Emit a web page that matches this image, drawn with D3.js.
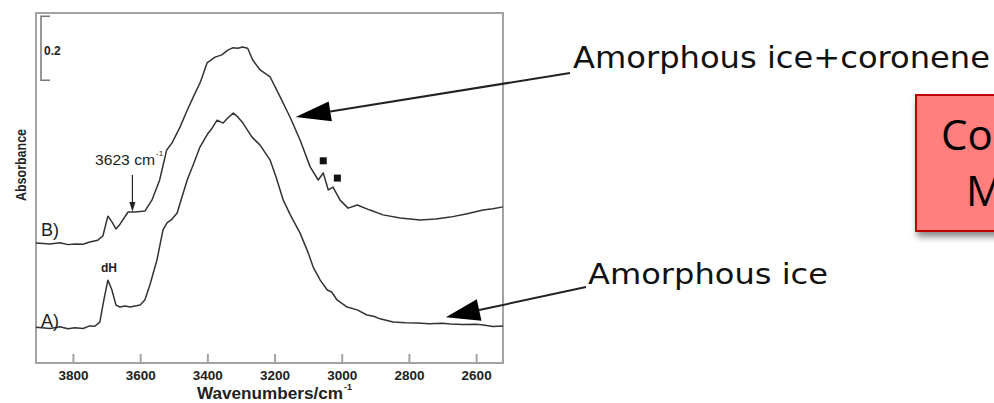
<!DOCTYPE html>
<html>
<head>
<meta charset="utf-8">
<script src="https://cdn.jsdelivr.net/npm/d3@7"></script>
<style>
  body { margin: 0; background: #fff; }
  svg { display: block; }
  .spec { fill: none; stroke: #333; stroke-width: 1.5; stroke-linejoin: round; }
  .frame { fill: none; stroke: #a3a3a3; stroke-width: 2; }
  .tickLabel { font-family: "Liberation Sans", Arial, sans-serif; font-weight: bold; font-size: 13px; fill: #222; }
  .note { font-family: "DejaVu Sans", Verdana, sans-serif; fill: #111; }
</style>
</head>
<body>
<div id="chart"></div>
<script>
// spectrum A: amorphous ice (wavenumber, absorbance)
var wnA = [3910, 3868, 3839, 3815, 3794, 3770, 3750, 3735, 3720, 3708, 3696, 3684, 3672, 3660, 3645, 3630, 3600, 3586, 3571, 3550, 3532, 3520, 3505, 3490, 3460, 3440, 3422, 3400, 3386, 3371, 3353, 3340, 3323, 3310, 3294, 3267, 3243, 3213, 3195, 3174, 3153, 3124, 3100, 3085, 3064, 3043, 3030, 3014, 2984, 2954, 2925, 2905, 2886, 2847, 2810, 2776, 2740, 2700, 2677, 2640, 2600, 2579, 2550, 2520];
var absA = [0.112, 0.108, 0.113, 0.107, 0.110, 0.108, 0.116, 0.115, 0.128, 0.197, 0.259, 0.228, 0.181, 0.175, 0.178, 0.175, 0.181, 0.197, 0.244, 0.322, 0.416, 0.438, 0.450, 0.469, 0.572, 0.625, 0.675, 0.715, 0.734, 0.759, 0.750, 0.765, 0.781, 0.770, 0.750, 0.706, 0.681, 0.634, 0.580, 0.509, 0.463, 0.406, 0.345, 0.300, 0.259, 0.228, 0.222, 0.197, 0.175, 0.166, 0.150, 0.146, 0.138, 0.128, 0.126, 0.125, 0.123, 0.124, 0.122, 0.120, 0.121, 0.119, 0.114, 0.116];
// spectrum B: amorphous ice + coronene
var wnB = [3910, 3868, 3839, 3815, 3794, 3770, 3750, 3726, 3711, 3696, 3684, 3672, 3660, 3636, 3615, 3586, 3565, 3542, 3521, 3505, 3481, 3460, 3442, 3420, 3401, 3377, 3357, 3339, 3325, 3309, 3295, 3280, 3265, 3243, 3213, 3183, 3154, 3124, 3094, 3070, 3055, 3040, 3026, 3005, 2981, 2954, 2916, 2877, 2826, 2767, 2720, 2677, 2630, 2579, 2550, 2520];
var absB = [0.375, 0.372, 0.376, 0.370, 0.372, 0.371, 0.378, 0.384, 0.397, 0.459, 0.441, 0.419, 0.434, 0.472, 0.472, 0.475, 0.509, 0.572, 0.666, 0.688, 0.738, 0.790, 0.831, 0.880, 0.938, 0.956, 0.963, 0.978, 0.985, 0.984, 0.988, 0.984, 0.947, 0.916, 0.894, 0.831, 0.769, 0.697, 0.613, 0.572, 0.594, 0.541, 0.550, 0.509, 0.484, 0.494, 0.478, 0.463, 0.453, 0.447, 0.450, 0.456, 0.466, 0.478, 0.482, 0.488];
var xTicks = [3800, 3600, 3400, 3200, 3000, 2800, 2600];
var markerWn = [3055, 3013];
var markerAbs = [0.632, 0.578];
var scaleBar = [1.084, 0.884];

var width = 994, height = 403;
var svg = d3.select("#chart").append("svg")
  .attr("width", width)
  .attr("height", height);

var defs = svg.append("defs");
var shadow = defs.append("filter").attr("id", "shadow")
  .attr("x", "-20%").attr("y", "-20%").attr("width", "150%").attr("height", "150%");
shadow.append("feDropShadow")
  .attr("dx", 2).attr("dy", 5).attr("stdDeviation", 3)
  .attr("flood-color", "#000").attr("flood-opacity", 0.45);

var plot = { left: 36, top: 13, right: 503, bottom: 363 };

var x = d3.scaleLinear().domain([3910, 2520]).range([plot.left, plot.right]);
var y = d3.scaleLinear().domain([0, 1.094]).range([plot.bottom, plot.top]);

// frame
svg.append("rect")
  .attr("class", "frame")
  .attr("x", plot.left)
  .attr("y", plot.top)
  .attr("width", plot.right - plot.left)
  .attr("height", plot.bottom - plot.top);

// bottom axis, ticks pointing inward
var xAxis = d3.axisBottom(x).tickValues(xTicks).tickSize(-9).tickPadding(14).tickFormat(d3.format("d"));
var axisG = svg.append("g")
  .attr("transform", `translate(0, ${plot.bottom})`)
  .call(xAxis);
axisG.select(".domain").remove();
axisG.selectAll(".tick line").attr("stroke", "#a3a3a3").attr("stroke-width", 2);
axisG.selectAll(".tick text").attr("class", "tickLabel").attr("dy", "0.2em").style("font-size", "13.5px");

// axis titles
svg.append("text")
  .attr("class", "tickLabel")
  .attr("x", 197)
  .attr("y", 399)
  .style("font-size", "16px")
  .attr("textLength", 146)
  .attr("lengthAdjust", "spacingAndGlyphs")
  .text("Wavenumbers/cm");
svg.append("text")
  .attr("class", "tickLabel")
  .attr("x", 344)
  .attr("y", 390)
  .style("font-size", "9px")
  .text("-1");

svg.append("text")
  .attr("class", "tickLabel")
  .attr("transform", "translate(26, 165) rotate(-90)")
  .attr("text-anchor", "middle")
  .style("font-size", "14px")
  .attr("textLength", 72)
  .attr("lengthAdjust", "spacingAndGlyphs")
  .text("Absorbance");

// 0.2 scale bar
svg.append("path")
  .attr("d", `M50,${y(scaleBar[0])}H41V${y(scaleBar[1])}H50`)
  .attr("fill", "none")
  .attr("stroke", "#777")
  .attr("stroke-width", 1.5);
svg.append("text")
  .attr("class", "tickLabel")
  .attr("x", 44)
  .attr("y", 55)
  .style("font-size", "12px")
  .text("0.2");

// spectra
var line = d3.line()
  .x(d => x(d[0]))
  .y(d => y(d[1]));

svg.append("path")
  .attr("class", "spec")
  .attr("d", line(d3.zip(wnA, absA)));
svg.append("path")
  .attr("class", "spec")
  .attr("d", line(d3.zip(wnB, absB)));

// coronene band markers
svg.selectAll(".marker")
  .data(d3.zip(markerWn, markerAbs))
  .enter()
  .append("rect")
  .attr("class", "marker")
  .attr("x", d => x(d[0]) - 3.5)
  .attr("y", d => y(d[1]) - 3.5)
  .attr("width", 7)
  .attr("height", 7)
  .attr("fill", "#111");

// curve labels
svg.append("text").attr("class", "tickLabel")
  .attr("x", 41).attr("y", 236)
  .style("font-weight", "normal").style("font-size", "18px")
  .text("B)");
svg.append("text").attr("class", "tickLabel")
  .attr("x", 41).attr("y", 327)
  .style("font-weight", "normal").style("font-size", "18px")
  .text("A)");
svg.append("text").attr("class", "tickLabel")
  .attr("x", 109).attr("y", 272)
  .attr("text-anchor", "middle")
  .style("font-size", "12px")
  .text("dH");

// 3623 cm-1 pointer
svg.append("text").attr("class", "tickLabel")
  .attr("x", 95).attr("y", 165)
  .style("font-weight", "normal").style("font-size", "15px")
  .attr("textLength", 60)
  .attr("lengthAdjust", "spacingAndGlyphs")
  .text("3623 cm");
svg.append("text").attr("class", "tickLabel")
  .attr("x", 156).attr("y", 156)
  .style("font-weight", "normal").style("font-size", "8px")
  .text("-1");
var px = x(3623);
svg.append("line")
  .attr("x1", px).attr("x2", px)
  .attr("y1", 175).attr("y2", 204)
  .attr("stroke", "#222").attr("stroke-width", 1.2);
svg.append("path")
  .attr("d", `M${px - 3},202L${px + 3},202L${px},${y(0.47) - 1}Z`)
  .attr("fill", "#222");

// big annotation arrows
function arrow(from, tip, len, half) {
  var dx = from[0] - tip[0], dy = from[1] - tip[1];
  var d = Math.sqrt(dx * dx + dy * dy);
  var ux = dx / d, uy = dy / d;
  var bx = tip[0] + ux * len, by = tip[1] + uy * len;
  svg.append("line")
    .attr("x1", from[0]).attr("y1", from[1])
    .attr("x2", bx).attr("y2", by)
    .attr("stroke", "#222").attr("stroke-width", 2);
  svg.append("path")
    .attr("d", `M${tip[0]},${tip[1]}L${bx - uy * half},${by + ux * half}L${bx + uy * half},${by - ux * half}Z`)
    .attr("fill", "#000");
}
arrow([570, 73], [x(3137), y(0.769)], 35, 10);
arrow([586, 287], [x(2690), y(0.143)], 34, 11);

svg.append("text").attr("class", "note")
  .attr("x", 573).attr("y", 68)
  .style("font-size", "30px")
  .attr("textLength", 417)
  .attr("lengthAdjust", "spacingAndGlyphs")
  .text("Amorphous ice+coronene");
svg.append("text").attr("class", "note")
  .attr("x", 588).attr("y", 284)
  .style("font-size", "29px")
  .attr("textLength", 240)
  .attr("lengthAdjust", "spacingAndGlyphs")
  .text("Amorphous ice");

// red callout box, cut by the right edge
svg.append("rect")
  .attr("x", 916).attr("y", 95)
  .attr("width", 140).attr("height", 136)
  .attr("fill", "#ff7f7f")
  .attr("stroke", "#c00000")
  .attr("stroke-width", 2)
  .attr("filter", "url(#shadow)");
svg.append("text")
  .attr("x", 941).attr("y", 150)
  .style("font-family", "'Open Sans', sans-serif")
  .style("font-size", "42px")
  .attr("fill", "#000")
  .text("Co");
svg.append("text")
  .attr("x", 966).attr("y", 206)
  .style("font-family", "'Open Sans', sans-serif")
  .style("font-size", "42px")
  .attr("fill", "#000")
  .text("M");
</script>
</body>
</html>
